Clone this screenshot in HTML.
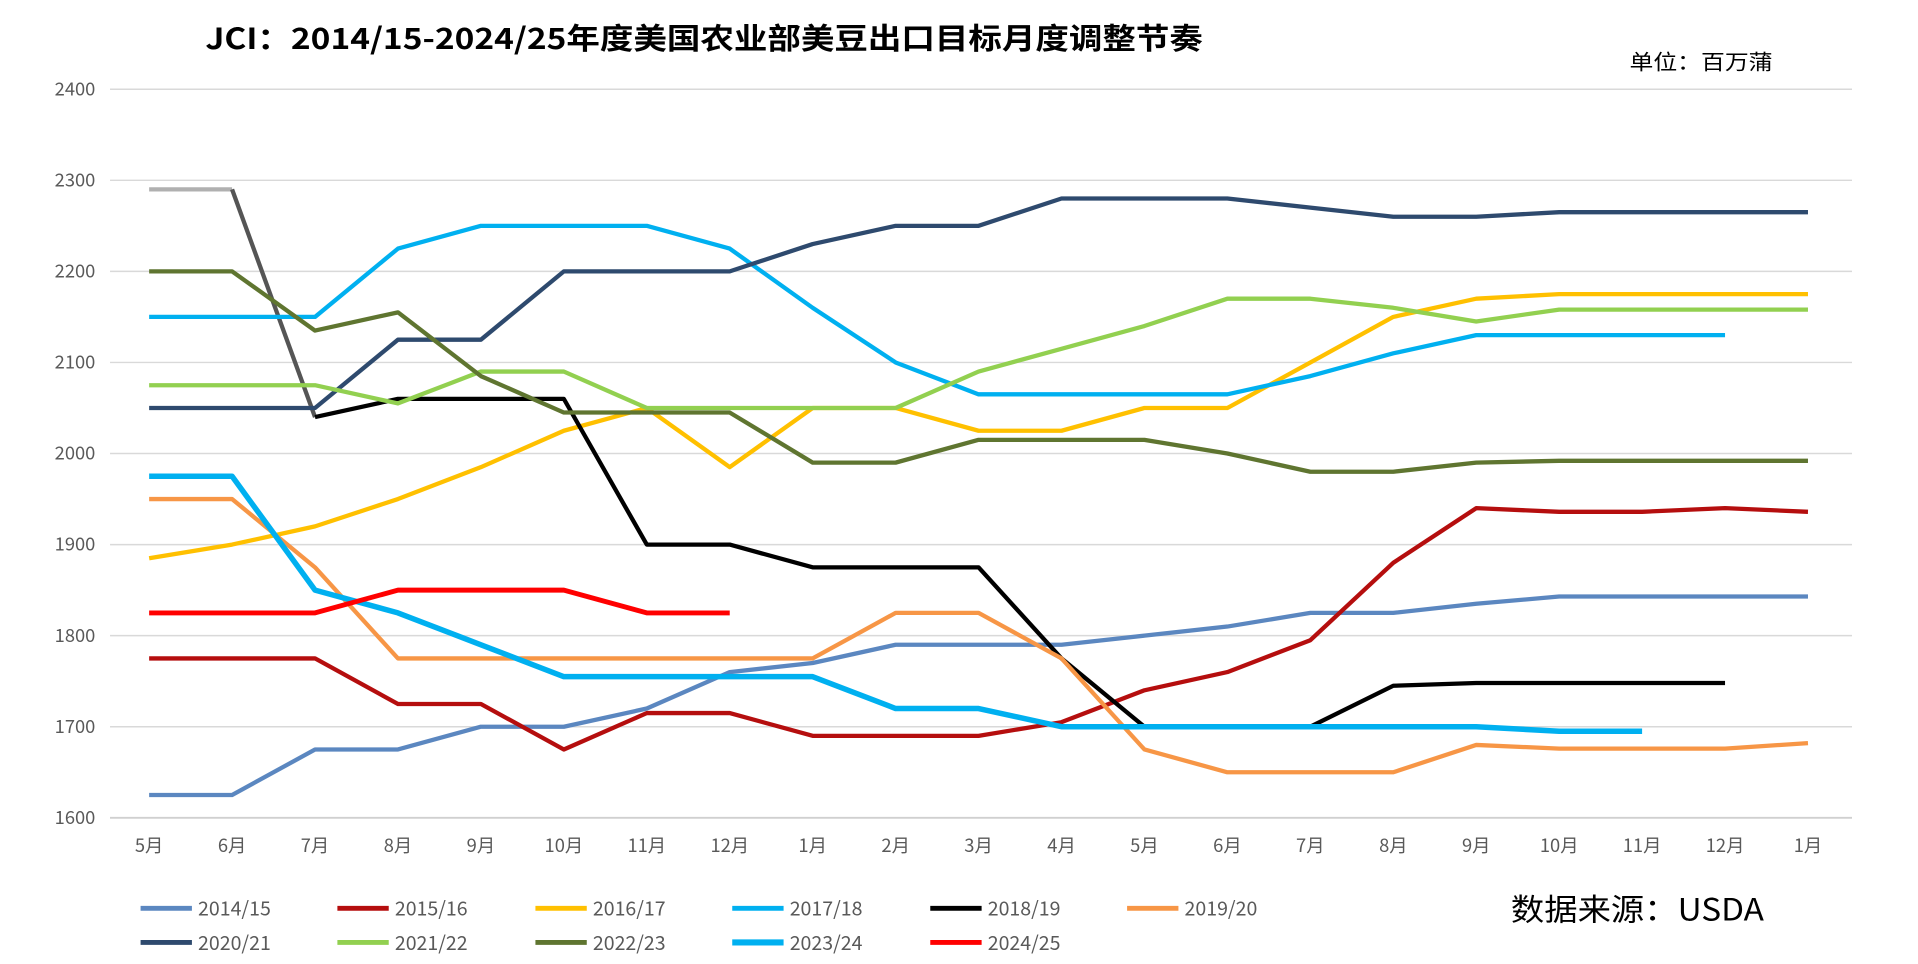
<!DOCTYPE html>
<html><head><meta charset="utf-8"><style>
html,body{margin:0;padding:0;background:#fff;}
svg{display:block;}
text{font-family:"Noto Sans CJK SC","Liberation Sans",sans-serif;}
</style></head><body>
<svg id="c" width="1918" height="964" viewBox="0 0 1569 788.6" preserveAspectRatio="none" xmlns="http://www.w3.org/2000/svg">
<text x="168" y="40" font-size="24" font-weight="bold" fill="#000" textLength="816" lengthAdjust="spacingAndGlyphs">JCI：2014/15-2024/25年度美国农业部美豆出口目标月度调整节奏</text>
<text x="1333" y="57" font-size="17" fill="#000" textLength="117" lengthAdjust="spacingAndGlyphs">单位：百万蒲</text>
<g stroke="#d9d9d9" stroke-width="1.2">
<line x1="90" x2="1515" y1="73" y2="73"/><line x1="90" x2="1515" y1="147.5" y2="147.5"/><line x1="90" x2="1515" y1="222" y2="222"/><line x1="90" x2="1515" y1="296.5" y2="296.5"/><line x1="90" x2="1515" y1="371" y2="371"/><line x1="90" x2="1515" y1="445.5" y2="445.5"/><line x1="90" x2="1515" y1="520" y2="520"/><line x1="90" x2="1515" y1="594.5" y2="594.5"/><line x1="90" x2="1515" y1="669" y2="669" stroke="#d0d0d0" stroke-width="1.5"/>
</g>
<g font-size="15" fill="#595959" text-anchor="end">
<text x="78" y="78">2400</text><text x="78" y="152.5">2300</text><text x="78" y="227">2200</text><text x="78" y="301.5">2100</text><text x="78" y="376">2000</text><text x="78" y="450.5">1900</text><text x="78" y="525">1800</text><text x="78" y="599.5">1700</text><text x="78" y="674">1600</text>
</g>
<g font-size="15" fill="#595959" text-anchor="middle">
<text x="122" y="697">5月</text><text x="189.9" y="697">6月</text><text x="257.7" y="697">7月</text><text x="325.6" y="697">8月</text><text x="393.4" y="697">9月</text><text x="461.3" y="697">10月</text><text x="529.1" y="697">11月</text><text x="597" y="697">12月</text><text x="664.8" y="697">1月</text><text x="732.7" y="697">2月</text><text x="800.5" y="697">3月</text><text x="868.4" y="697">4月</text><text x="936.2" y="697">5月</text><text x="1004.1" y="697">6月</text><text x="1071.9" y="697">7月</text><text x="1139.8" y="697">8月</text><text x="1207.6" y="697">9月</text><text x="1275.5" y="697">10月</text><text x="1343.3" y="697">11月</text><text x="1411.2" y="697">12月</text><text x="1479" y="697">1月</text>
</g>
<g id="series" fill="none" stroke-linejoin="round"></g>
<g font-size="16" fill="#595959">
<line x1="115" x2="157" y1="743" y2="743" stroke="#5b87c0" stroke-width="4"/><text x="162" y="749">2014/15</text>
<line x1="276" x2="318" y1="743" y2="743" stroke="#b50e0e" stroke-width="4"/><text x="323" y="749">2015/16</text>
<line x1="438" x2="480" y1="743" y2="743" stroke="#ffc000" stroke-width="4"/><text x="485" y="749">2016/17</text>
<line x1="599" x2="641" y1="743" y2="743" stroke="#00b0f0" stroke-width="4"/><text x="646" y="749">2017/18</text>
<line x1="761" x2="803" y1="743" y2="743" stroke="#000" stroke-width="4"/><text x="808" y="749">2018/19</text>
<line x1="922" x2="964" y1="743" y2="743" stroke="#f79646" stroke-width="4"/><text x="969" y="749">2019/20</text>
<line x1="115" x2="157" y1="771" y2="771" stroke="#2e4a6e" stroke-width="4"/><text x="162" y="777">2020/21</text>
<line x1="276" x2="318" y1="771" y2="771" stroke="#92d050" stroke-width="4"/><text x="323" y="777">2021/22</text>
<line x1="438" x2="480" y1="771" y2="771" stroke="#5f7530" stroke-width="4"/><text x="485" y="777">2022/23</text>
<line x1="599" x2="641" y1="771" y2="771" stroke="#00b0f0" stroke-width="5"/><text x="646" y="777">2023/24</text>
<line x1="761" x2="803" y1="771" y2="771" stroke="#ff0000" stroke-width="4"/><text x="808" y="777">2024/25</text>
</g>
<text x="1236" y="753" font-size="25" fill="#000" textLength="207" lengthAdjust="spacingAndGlyphs">数据来源：USDA</text>
</svg>
<script>
var S=[
["#5b87c0",3.5,[1625,1625,1675,1675,1700,1700,1720,1760,1770,1790,1790,1790,1800,1810,1825,1825,1835,1843,1843,1843,1843]],
["#b50e0e",3.5,[1775,1775,1775,1725,1725,1675,1715,1715,1690,1690,1690,1705,1740,1760,1795,1880,1940,1936,1936,1940,1936]],
["#ffc000",3.5,[1885,1900,1920,1950,1985,2025,2050,1985,2050,2050,2025,2025,2050,2050,2100,2150,2170,2175,2175,2175,2175]],
["#00b0f0",3.5,[2150,2150,2150,2225,2250,2250,2250,2225,2160,2100,2065,2065,2065,2065,2085,2110,2130,2130,2130,2130]],
["#000",3.5,[null,null,2040,2060,2060,2060,1900,1900,1875,1875,1875,1775,1700,1700,1700,1745,1748,1748,1748,1748]],
["#f79646",3.5,[1950,1950,1875,1775,1775,1775,1775,1775,1775,1825,1825,1775,1675,1650,1650,1650,1680,1676,1676,1676,1682]],
["#2e4a6e",3.5,[2050,2050,2050,2125,2125,2200,2200,2200,2230,2250,2250,2280,2280,2280,2270,2260,2260,2265,2265,2265,2265]],
["#92d050",3.5,[2075,2075,2075,2055,2090,2090,2050,2050,2050,2050,2090,2115,2140,2170,2170,2160,2145,2158,2158,2158,2158]],
["#5f7530",3.5,[2200,2200,2135,2155,2085,2045,2045,2045,1990,1990,2015,2015,2015,2000,1980,1980,1990,1992,1992,1992,1992]],
["#00b0f0",4.5,[1975,1975,1850,1825,1790,1755,1755,1755,1755,1720,1720,1700,1700,1700,1700,1700,1700,1695,1695]],
["#ff0000",4,[1825,1825,1825,1850,1850,1850,1825,1825]]
];
function X(i){return 122+i*67.85}function Y(v){return 669-(v-1600)*0.745}
var g=document.getElementById('series'),ns="http://www.w3.org/2000/svg";
function pl(pts,col,w){var p=document.createElementNS(ns,'polyline');p.setAttribute('points',pts);p.setAttribute('stroke',col);p.setAttribute('stroke-width',w);g.appendChild(p);}
pl(X(0)+","+Y(2290)+" "+X(1)+","+Y(2290),"#b0b0b0",3.5);
pl(X(1)+","+Y(2290)+" "+X(2)+","+Y(2040),"#555",3.5);
S.forEach(function(s){var pts=[];s[2].forEach(function(v,i){if(v!==null)pts.push(X(i)+","+Y(v));});pl(pts.join(" "),s[0],s[1]);});
</script>
</body></html>
